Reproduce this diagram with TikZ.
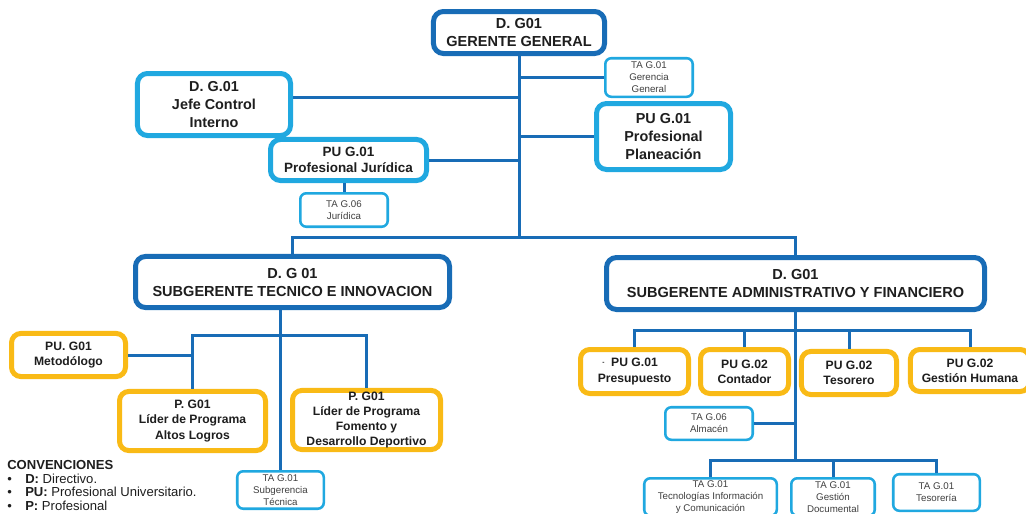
\documentclass[tikz,border=0pt]{standalone}
\usepackage{fontspec}
\setmainfont{Liberation Sans}
\usepackage{tikz}

\definecolor{dblue}{RGB}{24,108,182}
\definecolor{lblue}{RGB}{32,168,224}
\definecolor{amber}{RGB}{249,186,22}
\definecolor{ink}{RGB}{30,30,30}

\begin{document}
\begin{tikzpicture}[x=0.75pt,y=-0.75pt,
                    every node/.style={align=center,inner sep=0pt,fill=white,text=ink}]
  \tikzstyle{dir}=[draw=dblue,line width=3.75pt,rounded corners=7.5pt,
                   font=\bfseries\fontsize{10.9}{13.5}\selectfont]
  \tikzstyle{asesor}=[draw=lblue,line width=3.75pt,rounded corners=7.5pt,
                   font=\bfseries\fontsize{10.8}{13.4}\selectfont]
  \tikzstyle{prof}=[draw=amber,line width=3.75pt,rounded corners=7pt,
                   font=\bfseries\fontsize{9.1}{11.4}\selectfont]
  \tikzstyle{tec}=[draw=lblue,line width=1.9pt,rounded corners=4.5pt,text=black!75,
                   font=\fontsize{7.3}{8.9}\selectfont]
  \tikzstyle{link}=[draw=dblue,line width=2.25pt]
  \tikzstyle{conv}=[anchor=west,font=\fontsize{9.8}{11.5}\selectfont]

  \useasboundingbox (0,0) rectangle (1026,514);
  \clip (0,0) rectangle (1026,514);

  \node[dir,minimum width=128.3pt,minimum height=31.5pt]    (G)   at (519,32.5)   {D. G01\\GERENTE GENERAL};
  \node[asesor,minimum width=114.8pt,minimum height=46.5pt] (JC)  at (214,104.5)  {D. G.01\\Jefe Control\\Interno};
  \node[asesor,minimum width=117pt,minimum height=30.8pt,
        font=\bfseries\fontsize{10.1}{12}\selectfont]        (PJ)  at (348.5,160)  {PU G.01\\Profesional Jurídica};
  \node[tec,minimum width=65.6pt,minimum height=25.1pt]     (TAJ) at (344,210)    {TA G.06\\Jurídica};
  \node[tec,minimum width=65.6pt,minimum height=28.9pt]     (TAG) at (649,77.5)   {TA G.01\\Gerencia\\General};
  \node[asesor,minimum width=100.5pt,minimum height=49.5pt] (PP)  at (663.5,136.5) {PU G.01\\Profesional\\Planeación};

  \node[dir,minimum width=235.5pt,minimum height=38.3pt]    (ST)  at (292.5,282)  {D. G 01\\SUBGERENTE TECNICO E INNOVACION};
  \node[prof,minimum width=85.5pt,minimum height=32.3pt]    (MET) at (68.5,355)   {PU. G01\\Metodólogo};
  \node[prof,minimum width=109.5pt,minimum height=44.3pt]   (AL)  at (192.5,421)  {P. G01\\Líder de Programa\\Altos Logros};
  \node[prof,minimum width=111pt,minimum height=44.3pt]     (FD)  at (366.5,420)  {P. G01\\Líder de Programa\\Fomento y\\Desarrollo Deportivo};
  \node[tec,minimum width=64.9pt,minimum height=28.1pt]     (TAS) at (280.5,490)  {TA G.01\\Subgerencia\\Técnica};

  \node[dir,minimum width=283.5pt,minimum height=39pt]      (SA)  at (795.5,283.5) {D. G01\\SUBGERENTE ADMINISTRATIVO Y FINANCIERO};
  \node[prof,minimum width=81pt,minimum height=33pt]        (PRE) at (634.5,371.5) {\llap{\raisebox{2pt}{\tiny -}\ \ }PU G.01\\Presupuesto};
  \node[prof,minimum width=66pt,minimum height=33pt]        (CON) at (744.5,371.5) {PU G.02\\Contador};
  \node[prof,minimum width=71.3pt,minimum height=32.3pt]    (TES) at (849,373)    {PU G.02\\Tesorero};
  \node[prof,minimum width=89.3pt,minimum height=31.5pt]    (GH)  at (970,370.5)  {PU G.02\\Gestión Humana};
  \node[tec,minimum width=65.6pt,minimum height=24.4pt]     (ALM) at (709,423.5)  {TA G.06\\Almacén};
  \node[tec,minimum width=99.4pt,minimum height=28.1pt]     (TIC) at (710.5,497)  {TA G.01\\Tecnologías Información\\y Comunicación};
  \node[tec,minimum width=62.6pt,minimum height=28.1pt]     (GD)  at (833,497)    {TA G.01\\Gestión\\Documental};
  \node[tec,minimum width=64.9pt,minimum height=27.4pt]     (TSR) at (936.5,492.5) {TA G.01\\Tesorería};

  \node[conv] (cv)  at (7,465) {\bfseries CONVENCIONES};
  \node[conv] (cv1) at (7,478.5) {\makebox[13.5pt][l]{\textbullet}\textbf{D:} Directivo.};
  \node[conv] (cv2) at (7,492) {\makebox[13.5pt][l]{\textbullet}\textbf{PU:} Profesional Universitario.};
  \node[conv] (cv3) at (7,505.5) {\makebox[13.5pt][l]{\textbullet}\textbf{P:} Profesional};

  \coordinate (t0) at (519,237);
  \coordinate (jc) at ([yshift=5.6pt]JC.east);
  \coordinate (t1) at (280.5,335);
  \coordinate (t2) at (795.5,330);
  \coordinate (t3) at (795.5,460);

  % gerencia
  \draw[link] (G) -- (t0);
  \draw[link] (TAG) -- (TAG -| G);
  \draw[link] (PP) -- (PP -| G);
  \draw[link] (jc) -- (jc -| G);
  \draw[link] (PJ) -- (PJ -| G);
  \draw[link] (TAJ) -- (TAJ |- PJ.south);
  \draw[link] (ST) |- (t0) -| (SA);
  % subgerencia tecnica
  \draw[link] (TAS) -- (TAS |- ST.south);
  \draw[link] (AL) |- (t1) -| (FD);
  \draw[link] (MET) -- (MET -| AL);
  % subgerencia administrativa
  \draw[link] (SA) -- (t3);
  \draw[link] (PRE) |- (t2) -| (GH);
  \draw[link] (CON) -- (CON |- t2);
  \draw[link] (TES) -- (TES |- t2);
  \draw[link] (ALM) -- (ALM -| SA);
  \draw[link] (TIC) |- (t3) -| (TSR);
  \draw[link] (GD) -- (GD |- t3);
\end{tikzpicture}
\end{document}
